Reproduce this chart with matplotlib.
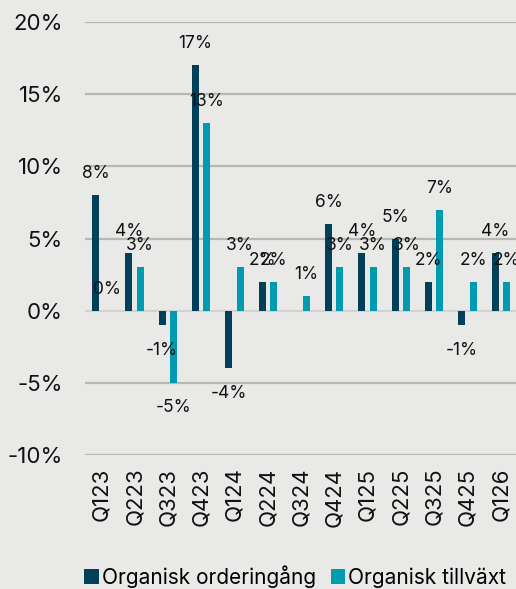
import matplotlib.pyplot as plt
import numpy as np

plt.rcParams["font.family"] = ["Inter", "DejaVu Sans"]

quarters = ["Q123", "Q223", "Q323", "Q423", "Q124", "Q224", "Q324",
            "Q424", "Q125", "Q225", "Q325", "Q425", "Q126"]
orderingang = [8, 4, -1, 17, -4, 2, np.nan, 6, 4, 5, 2, -1, 4]
tillvaxt = [0, 3, -5, 13, 3, 2, 1, 3, 3, 3, 7, 2, 2]

BG = "#e9eae8"
DARK = "#023f58"
TEAL = "#009bb1"

fig = plt.figure(figsize=(5.16, 5.89), dpi=100, facecolor=BG)
ax = fig.add_axes([0.165, 0.2275, 0.835, 0.735], facecolor=BG)

x = np.arange(len(quarters))
w = 0.21
off = 0.17

b1 = ax.bar(x - off, orderingang, width=w, color=DARK, zorder=3,
            label="Organisk orderingång")
b2 = ax.bar(x + off, tillvaxt, width=w, color=TEAL, zorder=3,
            label="Organisk tillväxt")

# value labels above / below each bar
for xs, vals in ((x - off, orderingang), (x + off, tillvaxt)):
    for xi, v in zip(xs, vals):
        if np.isnan(v):
            continue
        dy = 15.5 if v >= 0 else -18
        ax.annotate(f"{v:.0f}%", (xi, v), xytext=(0, dy),
                    textcoords="offset points", ha="center", va="center",
                    fontsize=12.5, color="#111111", zorder=5)

ax.set_ylim(-10, 20)
ax.set_xlim(-0.487, 12.46)
ticks = [-10, -5, 0, 5, 10, 15, 20]
ax.set_yticks(ticks)
ax.set_yticklabels([f"{t}%" for t in ticks], fontsize=16)
for t in ticks:
    col = "#d2d3d0" if t == 0 else "#b6b8b1"
    ax.axhline(t, color=col, lw=1.6, zorder=1)

ax.set_xticks(x)
ax.set_xticklabels(quarters, rotation=90, fontsize=16)
ax.tick_params(axis="both", length=0, colors="#111111")
ax.tick_params(axis="x", pad=9)
ax.tick_params(axis="y", pad=16)
for s in ax.spines.values():
    s.set_visible(False)

fig.legend(handles=[b1, b2], loc="lower center", bbox_to_anchor=(0.572, -0.03),
           ncol=2, frameon=False, fontsize=15, handlelength=0.7,
           handleheight=0.7, handletextpad=0.15, columnspacing=0.7)

fig.savefig("out.png", dpi=100, facecolor=BG)
